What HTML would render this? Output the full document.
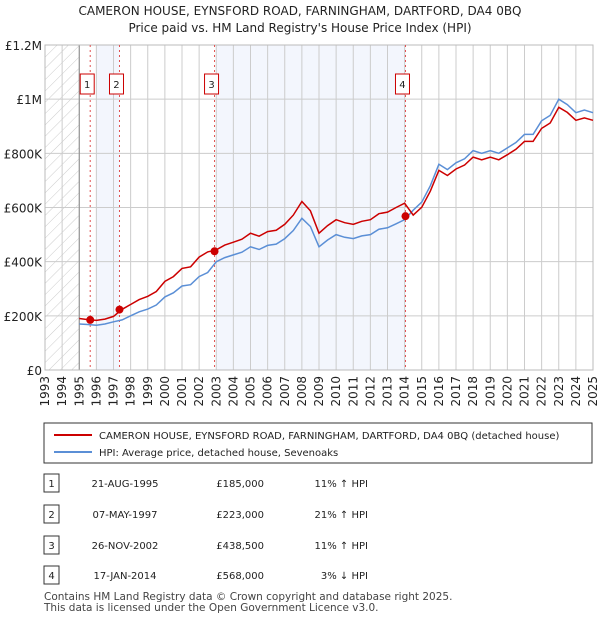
<!DOCTYPE html>
<html><head><meta charset="utf-8"><style>
body{margin:0;background:#fff;font-family:"Liberation Sans","DejaVu Sans",sans-serif;}
#wrap{position:relative;width:600px;height:620px;overflow:hidden;}
</style></head><body>
<div id="wrap">
<svg id="svg" width="600" height="620" xmlns="http://www.w3.org/2000/svg" font-family="DejaVu Sans, Liberation Sans, sans-serif"></svg>
</div>
<script>
const years = [];
for (let i = 0; i <= 60; i++) years.push(1995 + i * 0.5);
const hpiValues = [170,168,165,170,178,185,200,215,225,240,270,285,310,315,345,360,400,415,425,435,455,445,460,465,485,515,560,530,455,480,500,490,485,495,500,520,525,540,555,590,620,680,760,740,765,780,810,800,810,800,820,840,870,870,920,940,1000,980,950,960,950];
const priceValues = [190,186,183,188,198,224,242,260,272,290,327,345,375,381,417,436,444,461,472,483,505,494,511,516,538,572,622,588,505,533,555,544,538,549,555,577,583,600,616,572,601,660,737,718,742,757,786,776,786,776,795,815,844,844,892,912,970,951,922,931,922];
const saleDates = [1995.64, 1997.35, 2002.9, 2014.05];
const salePrices = [185, 223, 438.5, 568];
const saleLabels = ["1","2","3","4"];
const yTicks = [0,200,400,600,800,1000,1200];
const yTickLabels = ["£0","£200K","£400K","£600K","£800K","£1M","£1.2M"];
const xTicks = []; for (let y = 1993; y <= 2025; y++) xTicks.push(y);

const L=45,R=593,T=45,B=370;
const x = v => L + (v-1993)/(2025-1993)*(R-L);
const y = v => B - v/1200*(B-T);
const NS="http://www.w3.org/2000/svg";
const svg=document.getElementById('svg');
function mk(tag, attrs, parent){const e=document.createElementNS(NS,tag);for(const k in attrs)e.setAttribute(k,attrs[k]);(parent||svg).appendChild(e);return e;}

let t=mk('text',{x:300,y:15,'text-anchor':'middle','font-size':12,fill:'#222'});t.textContent="CAMERON HOUSE, EYNSFORD ROAD, FARNINGHAM, DARTFORD, DA4 0BQ";


t=mk('text',{x:300,y:32,'text-anchor':'middle','font-size':12,fill:'#222'});t.textContent="Price paid vs. HM Land Registry's House Price Index (HPI)";



const defs=mk('defs',{});
const pat=mk('pattern',{id:'hatch',width:8,height:8,patternUnits:'userSpaceOnUse',patternTransform:'rotate(45)'},defs);
mk('line',{x1:0,y1:0,x2:0,y2:8,stroke:'#ccc','stroke-width':1},pat);
let r=mk('rect',{x:L,y:T,width:x(1995)-L,height:B-T,fill:'url(#hatch)'});


r=mk('rect',{x:x(1996),y:T,width:x(saleDates[1])-x(1996),height:B-T,fill:'#f3f6fd'});


r=mk('rect',{x:x(2003),y:T,width:x(saleDates[3])-x(2003),height:B-T,fill:'#f3f6fd'});



yTicks.forEach((v,i)=>{
  const g=mk('line',{x1:L,x2:R,y1:y(v),y2:y(v),stroke:'#ccc','stroke-width':1});
  
  
  const lb=mk('text',{x:L-3,y:y(v)+5,'text-anchor':'end','font-size':12,fill:'#222'});lb.textContent=yTickLabels[i];
  
  
});
xTicks.forEach(v=>{
  const g=mk('line',{x1:x(v),x2:x(v),y1:T,y2:B,stroke:'#ccc','stroke-width':1});
  
  
  const lb=mk('text',{x:0,y:0,'text-anchor':'end','font-size':12,fill:'#222',transform:`translate(${x(v)+4},${B+6}) rotate(-90)`});lb.textContent=v;
  
  
});
mk('line',{x1:x(1995),x2:x(1995),y1:T,y2:B,stroke:'#888','stroke-width':1});
mk('rect',{x:L,y:T,width:R-L,height:B-T,fill:'none',stroke:'#bbb','stroke-width':1});

saleDates.forEach((d,i)=>{
  const l=mk('line',{x1:x(d),x2:x(d),y1:T,y2:B,stroke:'#e05050','stroke-width':1,'stroke-dasharray':'2,3'});
  
  
  const bx=mk('rect',{x:x(d)-10,y:74,width:14,height:20,fill:'#fff',stroke:'#c00','stroke-width':1});
  
  
  const tx=mk('text',{x:x(d)-3,y:88,'text-anchor':'middle','font-size':10,fill:'#222'});tx.textContent=saleLabels[i];
  
  
});

function path(vals){return vals.map((v,i)=>(i?'L':'M')+x(years[i]).toFixed(1)+','+y(v).toFixed(1)).join('');}
let p=mk('path',{d:path(hpiValues),fill:'none',stroke:'#5b8fd6','stroke-width':1.5});


p=mk('path',{d:path(priceValues),fill:'none',stroke:'#cc0000','stroke-width':1.5});


saleDates.forEach((d,i)=>{
  const c=mk('circle',{cx:x(d),cy:y(salePrices[i]),r:4,fill:'#cc0000'});
  
  
});

const lg=mk('g',{});


mk('rect',{x:44,y:423,width:548,height:40,fill:'#fff',stroke:'#333','stroke-width':1},lg);
mk('line',{x1:54,x2:92,y1:435,y2:435,stroke:'#cc0000','stroke-width':2},lg);
mk('line',{x1:54,x2:92,y1:452,y2:452,stroke:'#5b8fd6','stroke-width':2},lg);
t=mk('text',{x:99,y:439,'font-size':10,fill:'#222'},lg);t.textContent="CAMERON HOUSE, EYNSFORD ROAD, FARNINGHAM, DARTFORD, DA4 0BQ (detached house)";


t=mk('text',{x:99,y:456,'font-size':10,fill:'#222'},lg);t.textContent="HPI: Average price, detached house, Sevenoaks";



const rows=[["1","21-AUG-1995","£185,000","11% ↑ HPI"],["2","07-MAY-1997","£223,000","21% ↑ HPI"],["3","26-NOV-2002","£438,500","11% ↑ HPI"],["4","17-JAN-2014","£568,000","3% ↓ HPI"]];
const rowY=[483,514,545,575];
rows.forEach((rw,i)=>{
  const yy=rowY[i];
  const b=mk('rect',{x:44,y:yy-9,width:15,height:18,fill:'#fff',stroke:'#333','stroke-width':1});
  
  
  let c=mk('text',{x:51.5,y:yy+4,'text-anchor':'middle','font-size':10,fill:'#222'});c.textContent=rw[0];
  c=mk('text',{x:125,y:yy+4,'text-anchor':'middle','font-size':10,fill:'#222'});c.textContent=rw[1];
  
  
  c=mk('text',{x:264,y:yy+4,'text-anchor':'end','font-size':10,fill:'#222'});c.textContent=rw[2];
  
  
  c=mk('text',{x:368,y:yy+4,'text-anchor':'end','font-size':10,fill:'#222'});c.textContent=rw[3];
  
  
});
t=mk('text',{x:44,y:600,'font-size':10.5,fill:'#444'});t.textContent="Contains HM Land Registry data © Crown copyright and database right 2025.";


t=mk('text',{x:44,y:611,'font-size':10.5,fill:'#444'});t.textContent="This data is licensed under the Open Government Licence v3.0.";


</script>
</body></html>
